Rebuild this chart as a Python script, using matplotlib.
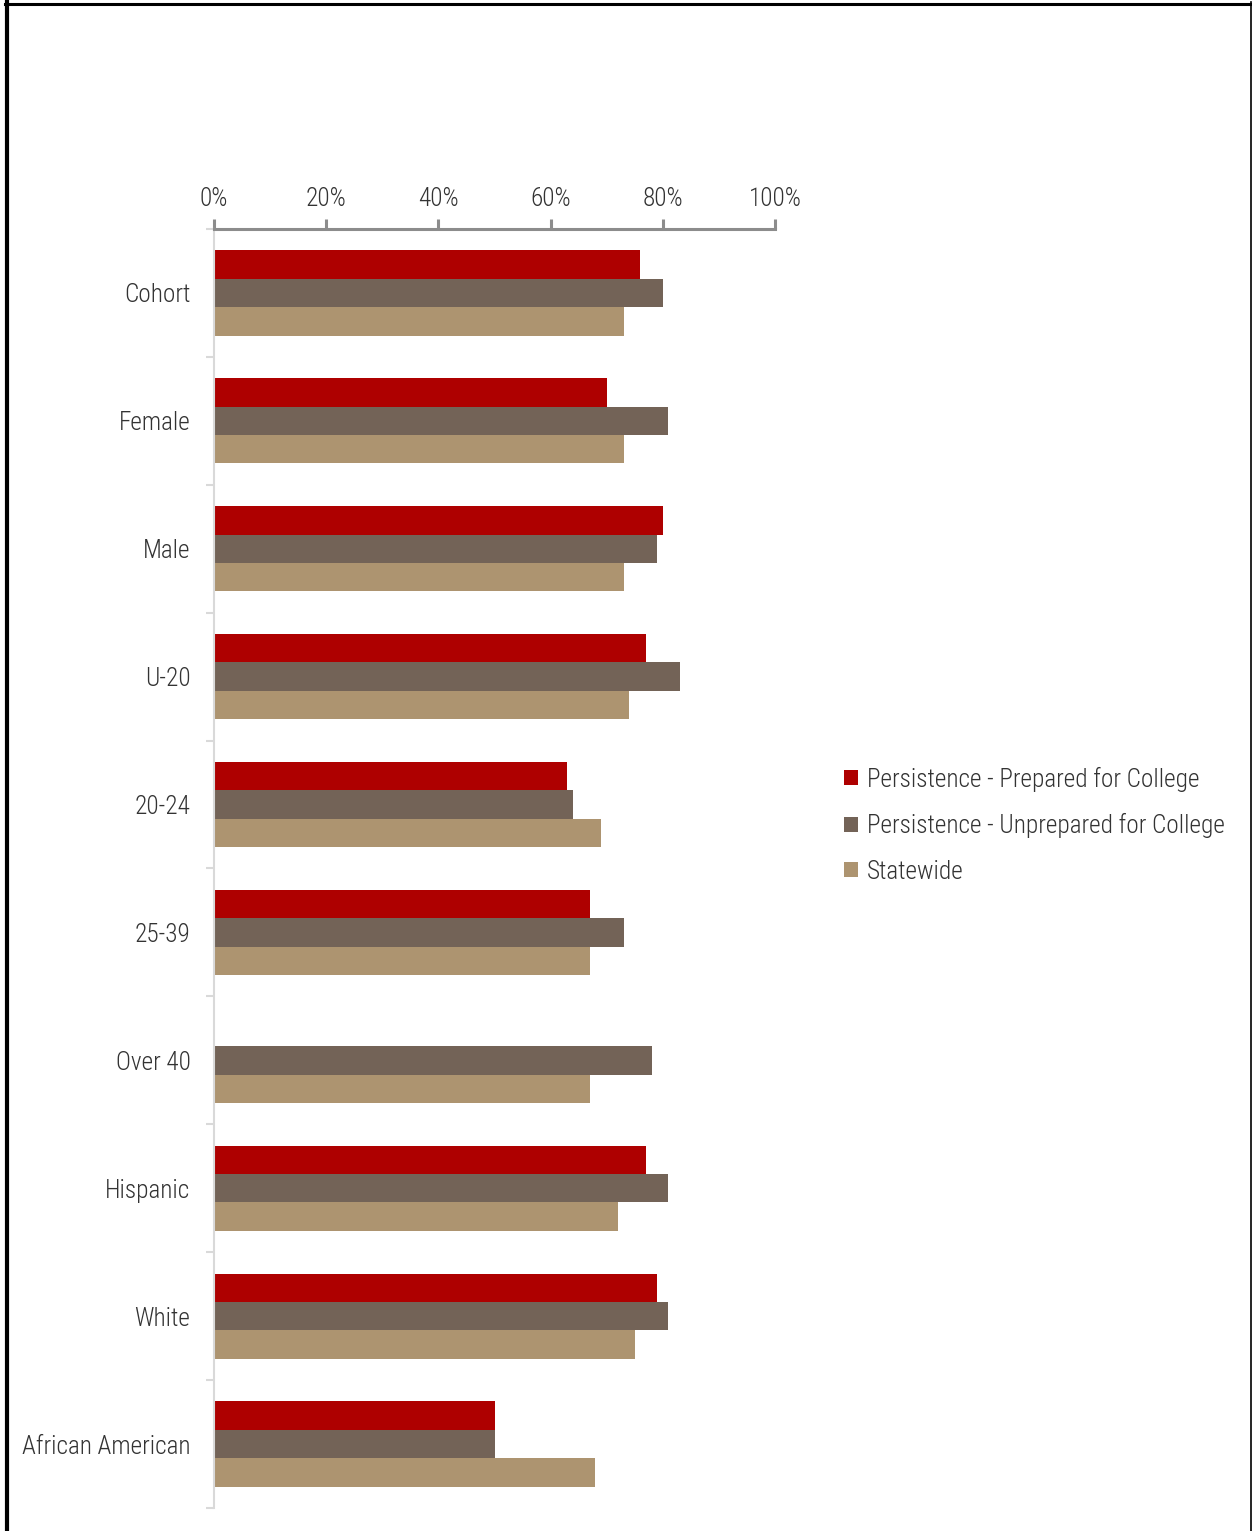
import matplotlib
matplotlib.use("Agg")
import matplotlib.pyplot as plt
from matplotlib.lines import Line2D
from matplotlib.patches import Patch
import numpy as np

# Persistence rates by group (percent)
groups = ["Cohort", "Female", "Male", "U-20", "20-24", "25-39",
          "Over 40", "Hispanic", "White", "African American"]
prepared = [76, 70, 80, 77, 63, 67, 0, 77, 79, 50]
unprepared = [80, 81, 79, 83, 64, 73, 78, 81, 81, 50]
statewide = [73, 73, 73, 74, 69, 67, 67, 72, 75, 68]

series_names = ["Persistence - Prepared for College",
                "Persistence - Unprepared for College",
                "Statewide"]
colors = ["#AE0000", "#736357", "#AD9470"]
ticks = [0, 20, 40, 60, 80, 100]

plt.rcParams["font.family"] = ["Roboto Condensed", "Roboto", "DejaVu Sans"]
plt.rcParams["font.weight"] = 300
text_color = "#333333"
fs = 18.2

W, H = 1252, 1531
fig = plt.figure(figsize=(W / 100, H / 100), dpi=100)
ax = fig.add_axes([214 / W, 1 - 1508 / H, (775 - 214) / W, (1508 - 229) / H])

y = np.arange(len(groups))
h = 0.222
for offs, vals, col in zip([-h, 0, h], [prepared, unprepared, statewide], colors):
    ax.barh(y + offs, vals, height=h, color=col, edgecolor="none")

ax.set_xlim(0, 100)
ax.set_ylim(len(groups) - 0.5, -0.5)

ax.xaxis.tick_top()
ax.set_xticks(ticks)
ax.set_xticklabels([f"{t}%" for t in ticks], fontsize=fs, color=text_color)
ax.tick_params(axis="x", direction="out", length=7, width=2.2, color="#8c8c8c", pad=6)

ax.set_yticks(y)
ax.set_yticklabels(groups, fontsize=fs, color=text_color)
ax.set_yticks(np.arange(len(groups) + 1) - 0.5, minor=True)
ax.tick_params(axis="y", which="major", length=0, pad=17)
ax.tick_params(axis="y", which="minor", direction="out", length=6, width=1.5, color="#d9d9d9")

for side in ["right", "bottom"]:
    ax.spines[side].set_visible(False)
ax.spines["top"].set_color("#8c8c8c")
ax.spines["top"].set_linewidth(2.2)
ax.spines["left"].set_color("#d9d9d9")
ax.spines["left"].set_linewidth(1.5)

handles = [Patch(facecolor=c, edgecolor="none") for c in colors]
leg = fig.legend(handles, series_names, loc="center left",
                 bbox_to_anchor=(821 / W, 1 - 825 / H), frameon=False,
                 fontsize=fs, handlelength=0.55, handleheight=0.55,
                 handletextpad=0.35, labelspacing=0.85, labelcolor=text_color)

# outer frame
fig.add_artist(Line2D([7 / W, 7 / W], [0, 1 - 2 / H], color="black", lw=3, transform=fig.transFigure))
fig.add_artist(Line2D([5 / W, 1251 / W], [1 - 3.5 / H, 1 - 3.5 / H], color="black", lw=2.2, transform=fig.transFigure))
fig.add_artist(Line2D([1250.5 / W, 1250.5 / W], [0, 1 - 2 / H], color="black", lw=1.2, transform=fig.transFigure))

fig.savefig("out.png", dpi=100)
